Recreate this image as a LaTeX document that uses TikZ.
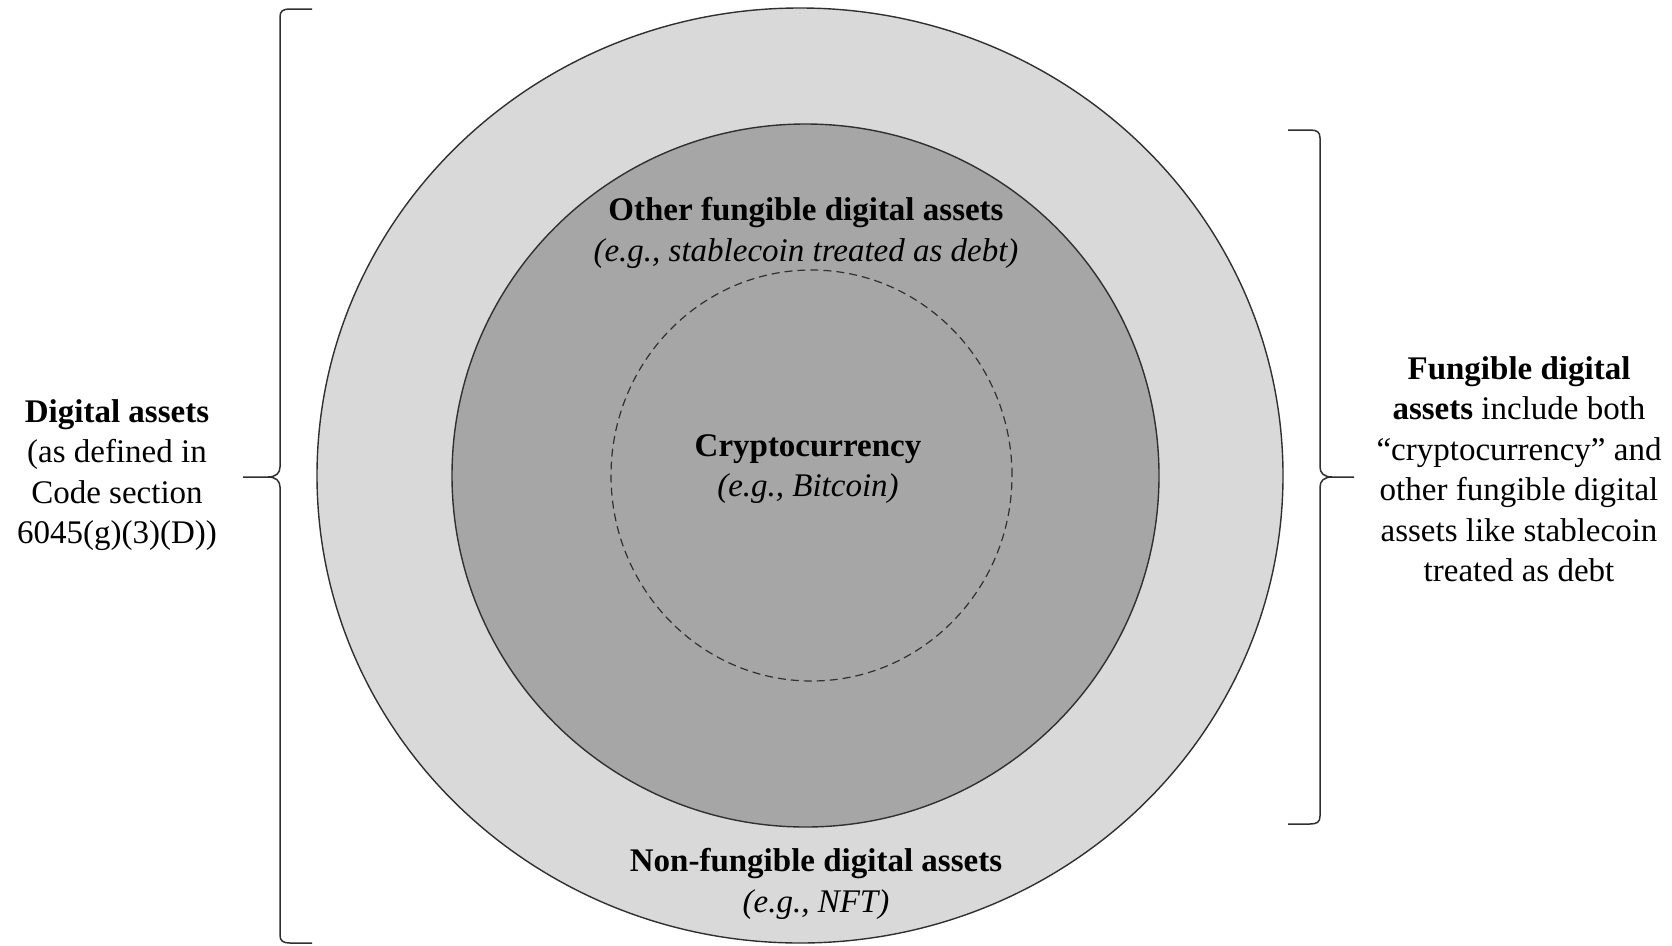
\documentclass[tikz,border=0pt]{standalone}
\usepackage{fontspec}
\setmainfont{Liberation Serif}
\usetikzlibrary{shapes.geometric}
\definecolor{outerfill}{HTML}{D9D9D9}
\definecolor{innerfill}{HTML}{A6A6A6}
\definecolor{edge}{HTML}{303030}
\begin{document}
\begin{tikzpicture}[x=1pt,y=-1pt,
  ring/.style={ellipse, draw=edge, line width=1.4pt, inner sep=0pt},
  lbl/.style={align=center, font=\fontsize{33}{40.5}\selectfont, inner sep=0pt, text=black},
  bracepath/.style={draw=edge, line width=1.5pt}]
\useasboundingbox (0,0) rectangle (1672,945);
% rings
\node[ring, fill=outerfill, minimum width=966, minimum height=935] (outer) at (800,475.5) {};
\node[ring, fill=innerfill, minimum width=707, minimum height=703] (inner) at (805.5,475.5) {};
\node[ring, dashed, dash pattern=on 8pt off 5pt, line width=1.2pt, minimum width=401, minimum height=411] (crypto) at (811.5,475.5) {};
% labels inside
\node[lbl] (otherT) at (806,233) {\textbf{Other fungible digital assets}\\\textit{(e.g., stablecoin treated as debt)}};
\node[lbl] (cryptoT) at (808,469) {\textbf{Cryptocurrency}\\\textit{(e.g., Bitcoin)}};
\node[lbl] (nonT) at (816,884) {\textbf{Non-fungible digital assets}\\\textit{(e.g., NFT)}};
% side labels
\node[lbl] (digT) at (117,475) {\textbf{Digital assets}\\(as defined in\\Code section\\6045(g)(3)(D))};
\node[lbl] (fungT) at (1519,469) {\textbf{Fungible digital}\\\textbf{assets} include both\\“cryptocurrency” and\\other fungible digital\\assets like stablecoin\\treated as debt};
% left brace
\coordinate (lbTop) at (312,9);
\coordinate (lbBot) at (312,943);
\coordinate (lbTip) at (243,477);
\draw[bracepath] (lbTop) -- (290,9) .. controls (283,9) and (280,11) .. (280,17) -- (280,467)
  .. controls (280,473) and (276,477) .. (268,477) -- (lbTip);
\draw[bracepath] (268,477) .. controls (276,477) and (280,481) .. (280,487) -- (280,935)
  .. controls (280,941) and (283,943) .. (290,943) -- (lbBot);
% right brace
\coordinate (rbTop) at (1288,130);
\coordinate (rbBot) at (1288,824);
\coordinate (rbTip) at (1354,477);
\draw[bracepath] (rbTop) -- (1310,130) .. controls (1317,130) and (1320,132) .. (1320,138) -- (1320,467)
  .. controls (1320,473) and (1324,477) .. (1332,477) -- (rbTip);
\draw[bracepath] (1332,477) .. controls (1324,477) and (1320,481) .. (1320,487) -- (1320,816)
  .. controls (1320,822) and (1317,824) .. (1310,824) -- (rbBot);
\end{tikzpicture}
\end{document}
